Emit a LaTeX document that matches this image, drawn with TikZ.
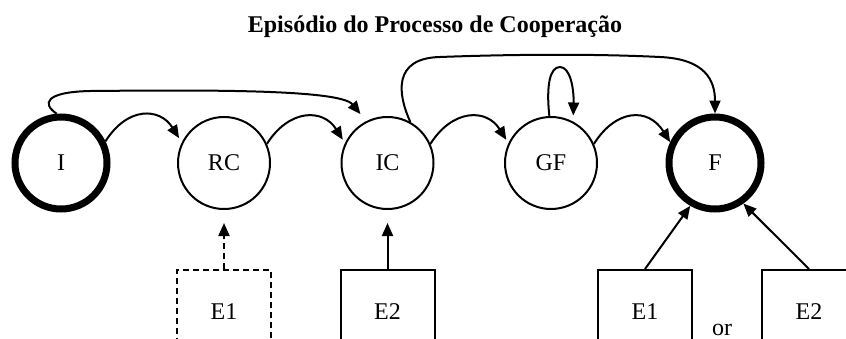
\documentclass[tikz,border=0pt]{standalone}
\usepackage{fontspec}
\setmainfont{Liberation Serif}
\usetikzlibrary{arrows.meta}
\begin{document}
\begin{tikzpicture}[x=0.5pt,y=-0.5pt,
  every node/.style={font=\fontsize{12}{14}\selectfont},
  state/.style={circle,draw,line width=1pt,minimum size=46pt,inner sep=0pt},
  endstate/.style={state,line width=3.5pt},
  ext/.style={rectangle,draw,line width=1pt,minimum width=47pt,minimum height=42pt,inner sep=0pt},
  extopt/.style={ext,dash pattern=on 3pt off 2pt},
  link/.style={line width=1pt,-{Triangle[length=6.5pt,width=5.5pt]}},
  optlink/.style={link,dash pattern=on 3pt off 2pt},
]
\useasboundingbox (0,0) rectangle (846,338);
\clip (0,0) rectangle (846,338);

% title
\node[font=\fontsize{12}{14}\selectfont\bfseries,anchor=base] (title) at (435,32)
  {Episódio do Processo de Cooperação};

% states
\node[endstate] (i)  at (61,163)    {I};
\node[state]    (rc) at (224,163)   {RC};
\node[state]    (ic) at (387.5,163) {IC};
\node[state]    (gf) at (551,163)   {GF};
\node[endstate] (f)  at (715,163)   {F};

% external events
\node[extopt] (e1a) at (224,312)   {E1};
\node[ext]    (e2a) at (387.5,312) {E2};
\node[ext]    (e1b) at (645,312)   {E1};
\node[ext]    (e2b) at (809,312)   {E2};
\node[anchor=base] (or) at (722,335) {or};

% sequential transitions
\draw[link,shorten >=2.5pt] (i.26)  .. controls +(22,-35) and +(-22,-35) .. (rc.154);
\draw[link,shorten >=2pt]   (rc.24) .. controls +(22,-35) and +(-22,-35) .. (ic.155);
\draw[link,shorten >=2pt]   (ic.24) .. controls +(22,-35) and +(-22,-35) .. (gf.155);
\draw[link]                 (gf.24) .. controls +(22,-35) and +(-22,-35) .. (f.155);

% skip from I to IC
\draw[link,shorten >=4.5pt] (i.95) .. controls +(-15,-10) and (45,92) .. (90,91)
  .. controls (200,90) and (340,89) .. (ic.117);

% skip from IC to F
\draw[link] (ic.61) .. controls (398,95) and (392,58) .. (440,57)
  .. controls (520,54) and (600,54) .. (660,57)
  .. controls (705,59) and (715,80) .. (f.north);

% self loop on GF
\draw[link,shorten >=3pt] (gf.92) .. controls (546,85) and (550,67) .. (560,67)
  .. controls (570,67) and (574,88) .. (gf.62);

% events acting on the states
\draw[optlink] (e1a.north) -- ([yshift=-6.5pt]rc.south);
\draw[link]    (e2a.north) -- ([yshift=-6.5pt]ic.south);
\draw[link]    (e1b.north) -- (f.240);
\draw[link]    (e2b.north) -- (f.305);
\end{tikzpicture}
\end{document}
